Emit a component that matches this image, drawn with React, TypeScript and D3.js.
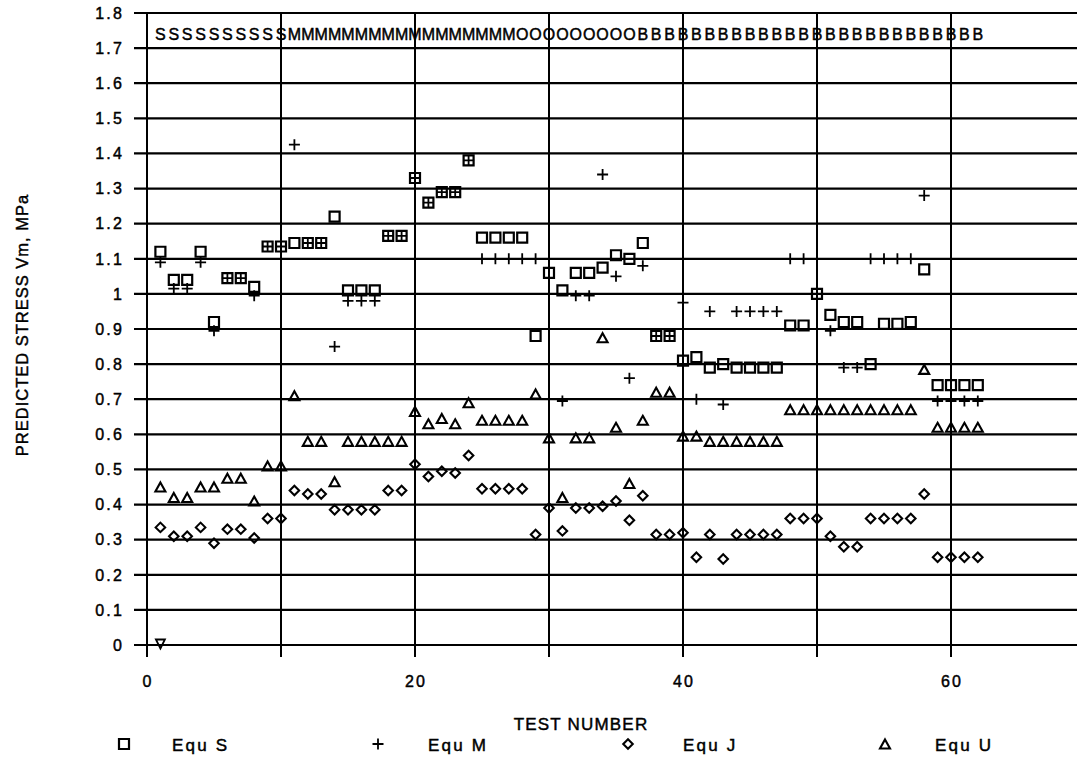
import React from 'react';
import * as d3 from 'd3';

// ---- Data ----
const equS = [
  1.12, 1.04, 1.04, 1.12, 0.92, 1.045, 1.045, 1.02, 1.135, 1.135,
  1.145, 1.145, 1.145, 1.22, 1.01, 1.01, 1.01, 1.165, 1.165, 1.33,
  1.26, 1.29, 1.29, 1.38, 1.16, 1.16, 1.16, 1.16, 0.88, 1.06,
  1.01, 1.06, 1.06, 1.075, 1.11, 1.10, 1.145, 0.88, 0.88, 0.81,
  0.82, 0.79, 0.80, 0.79, 0.79, 0.79, 0.79, 0.91, 0.91, 1.00,
  0.94, 0.92, 0.92, 0.80, 0.915, 0.915, 0.92, 1.07, 0.74, 0.74,
  0.74, 0.74,
];
const equM = [
  1.09, 1.015, 1.015, 1.09, 0.895, 1.045, 1.045, 0.995, 1.135, 1.135,
  1.425, 1.145, 1.145, 0.85, 0.98, 0.98, 0.98, 1.165, 1.165, 1.33,
  1.26, 1.29, 1.29, 1.38, 1.10, 1.10, 1.10, 1.10, 1.10, 1.00,
  0.695, 0.995, 0.995, 1.34, 1.05, 0.76, 1.08, 0.88, 0.88, 0.975,
  0.70, 0.95, 0.685, 0.95, 0.95, 0.95, 0.95, 1.10, 1.10, 1.10,
  0.895, 0.79, 0.79, 1.10, 1.10, 1.10, 1.10, 1.28, 0.695, 0.695,
  0.695, 0.695,
];
const equJ = [
  0.335, 0.31, 0.31, 0.335, 0.29, 0.33, 0.33, 0.305, 0.36, 0.36,
  0.44, 0.43, 0.43, 0.385, 0.385, 0.385, 0.385, 0.44, 0.44, 0.515,
  0.48, 0.495, 0.49, 0.54, 0.445, 0.445, 0.445, 0.445, 0.315, 0.39,
  0.325, 0.39, 0.39, 0.395, 0.41, 0.355, 0.425, 0.315, 0.315, 0.32,
  0.25, 0.315, 0.245, 0.315, 0.315, 0.315, 0.315, 0.36, 0.36, 0.36,
  0.31, 0.28, 0.28, 0.36, 0.36, 0.36, 0.36, 0.43, 0.25, 0.25,
  0.25, 0.25,
];
const equU = [
  0.45, 0.42, 0.42, 0.45, 0.45, 0.475, 0.475, 0.41, 0.51, 0.51,
  0.71, 0.58, 0.58, 0.465, 0.58, 0.58, 0.58, 0.58, 0.58, 0.665,
  0.63, 0.645, 0.63, 0.69, 0.64, 0.64, 0.64, 0.64, 0.715, 0.59,
  0.42, 0.59, 0.59, 0.875, 0.62, 0.46, 0.64, 0.72, 0.72, 0.595,
  0.595, 0.58, 0.58, 0.58, 0.58, 0.58, 0.58, 0.67, 0.67, 0.67,
  0.67, 0.67, 0.67, 0.67, 0.67, 0.67, 0.67, 0.785, 0.62, 0.62,
  0.62, 0.62,
];
// isolated inverted-triangle mark at test 1
const extraTests = [1];
const extraValues = [0];

// group letter printed above each test
const groupLetters = [
  'S','S','S','S','S','S','S','S','S','S',
  'M','M','M','M','M','M','M','M','M','M','M','M','M','M','M','M','M',
  'O','O','O','O','O','O','O','O','O',
  'B','B','B','B','B','B','B','B','B','B','B','B','B','B','B','B','B','B','B','B','B','B','B','B','B','B',
];

const yTicks = [0, 0.1, 0.2, 0.3, 0.4, 0.5, 0.6, 0.7, 0.8, 0.9, 1, 1.1, 1.2, 1.3, 1.4, 1.5, 1.6, 1.7, 1.8];
const yTickLabels = ['0', '0.1', '0.2', '0.3', '0.4', '0.5', '0.6', '0.7', '0.8', '0.9', '1', '1.1', '1.2', '1.3', '1.4', '1.5', '1.6', '1.7', '1.8'];
const xGrid = [0, 10, 20, 30, 40, 50, 60, 70];
const xTickLabels = ['0', '20', '40', '60'];
const xTickValues = [0, 20, 40, 60];
const legendLabels = ['Equ S', 'Equ M', 'Equ J', 'Equ U'];

const W = 1077;
const H = 760;

const sqPath = (s: number) => `M${-s / 2},${-s / 2}h${s}v${s}h${-s}Z`;
const plusPath = (s: number) => `M${-s / 2},0h${s}M0,${-s / 2}v${s}`;
const diaPath = (w: number, h: number) => `M0,${-h / 2}L${w / 2},0L0,${h / 2}L${-w / 2},0Z`;
const triPath = (w: number, h: number) => `M0,${-h / 2}L${w / 2},${h / 2}L${-w / 2},${h / 2}Z`;
const triDownPath = (w: number, h: number) => `M0,${h / 2}L${w / 2},${-h / 2}L${-w / 2},${-h / 2}Z`;

const markers = [
  { d: sqPath(10), sw: 2.2 },
  { d: plusPath(11), sw: 1.8 },
  { d: diaPath(9.5, 9.5), sw: 2.1 },
  { d: triPath(10, 9), sw: 2.1 },
];

export default function App() {
  const x = d3.scaleLinear().domain([0, 70]).range([147, 1085]);
  const y = d3.scaleLinear().domain([0, 1.8]).range([645, 13]);
  const series = [equS, equM, equJ, equU];
  const font = "'Liberation Sans', Arial, sans-serif";
  const textStroke = { stroke: '#000', strokeWidth: 0.45 };

  const legendMarkX = [124, 378, 628, 885];
  const legendTextX = [172, 428, 683, 935];

  return (
    <svg width={W} height={H} style={{ position: 'absolute', left: 0, top: 0, background: '#fff' }}>
      <rect x={0} y={0} width={W} height={H} fill="#fff" />
      {/* horizontal grid lines + left ticks */}
      {yTicks.map((v) => (
        <line key={'h' + v} x1={134} x2={W} y1={y(v)} y2={y(v)} stroke="#000" strokeWidth={2.2} />
      ))}
      {/* vertical grid lines */}
      {xGrid.map((v) => (
        <line key={'v' + v} x1={x(v)} x2={x(v)} y1={y(1.8)} y2={y(0) + 12} stroke="#000" strokeWidth={2} />
      ))}
      {/* y tick labels */}
      {yTicks.map((v, i) => (
        <text key={'yl' + v} x={124} y={y(v)} dy="0.36em" textAnchor="end" fontFamily={font} fontSize={16} letterSpacing={2.2} fill="#000" {...textStroke}>
          {yTickLabels[i]}
        </text>
      ))}
      {/* x tick labels */}
      {xTickValues.map((v, i) => (
        <text key={'xl' + v} x={x(v) + 1} y={687} textAnchor="middle" fontFamily={font} fontSize={16} letterSpacing={2} fill="#000" {...textStroke}>
          {xTickLabels[i]}
        </text>
      ))}
      {/* group letters row */}
      {groupLetters.map((c, i) => (
        <text key={'g' + i} x={x(i + 1)} y={40} textAnchor="middle" fontFamily={font} fontSize={16} fill="#000" {...textStroke}>
          {c}
        </text>
      ))}
      {/* data markers */}
      {series.map((vals, si) =>
        vals.map((v, i) => (
          <path
            key={'m' + si + '-' + i}
            d={markers[si].d}
            transform={`translate(${x(i + 1)},${y(v)})`}
            fill="none"
            stroke="#000"
            strokeWidth={markers[si].sw}
          />
        ))
      )}
      {extraTests.map((t, i) => (
        <path key={'e' + i} d={triDownPath(9, 9)} transform={`translate(${x(t)},${y(extraValues[i]) - 1})`} fill="none" stroke="#000" strokeWidth={1.8} />
      ))}
      {/* axis titles */}
      <text x={581} y={730} textAnchor="middle" fontFamily={font} fontSize={17} letterSpacing={1.2} fill="#000" {...textStroke}>
        TEST NUMBER
      </text>
      <text transform="translate(28,325) rotate(-90)" textAnchor="middle" fontFamily={font} fontSize={16.5} letterSpacing={1} fill="#000" {...textStroke}>
        PREDICTED STRESS Vm, MPa
      </text>
      {/* legend */}
      {legendLabels.map((l, i) => (
        <g key={'lg' + i}>
          <path d={markers[i].d} transform={`translate(${legendMarkX[i]},${744})`} fill="none" stroke="#000" strokeWidth={markers[i].sw} />
          <text x={legendTextX[i]} y={751} fontFamily={font} fontSize={17} letterSpacing={2.2} fill="#000" {...textStroke}>
            {l}
          </text>
        </g>
      ))}
    </svg>
  );
}
